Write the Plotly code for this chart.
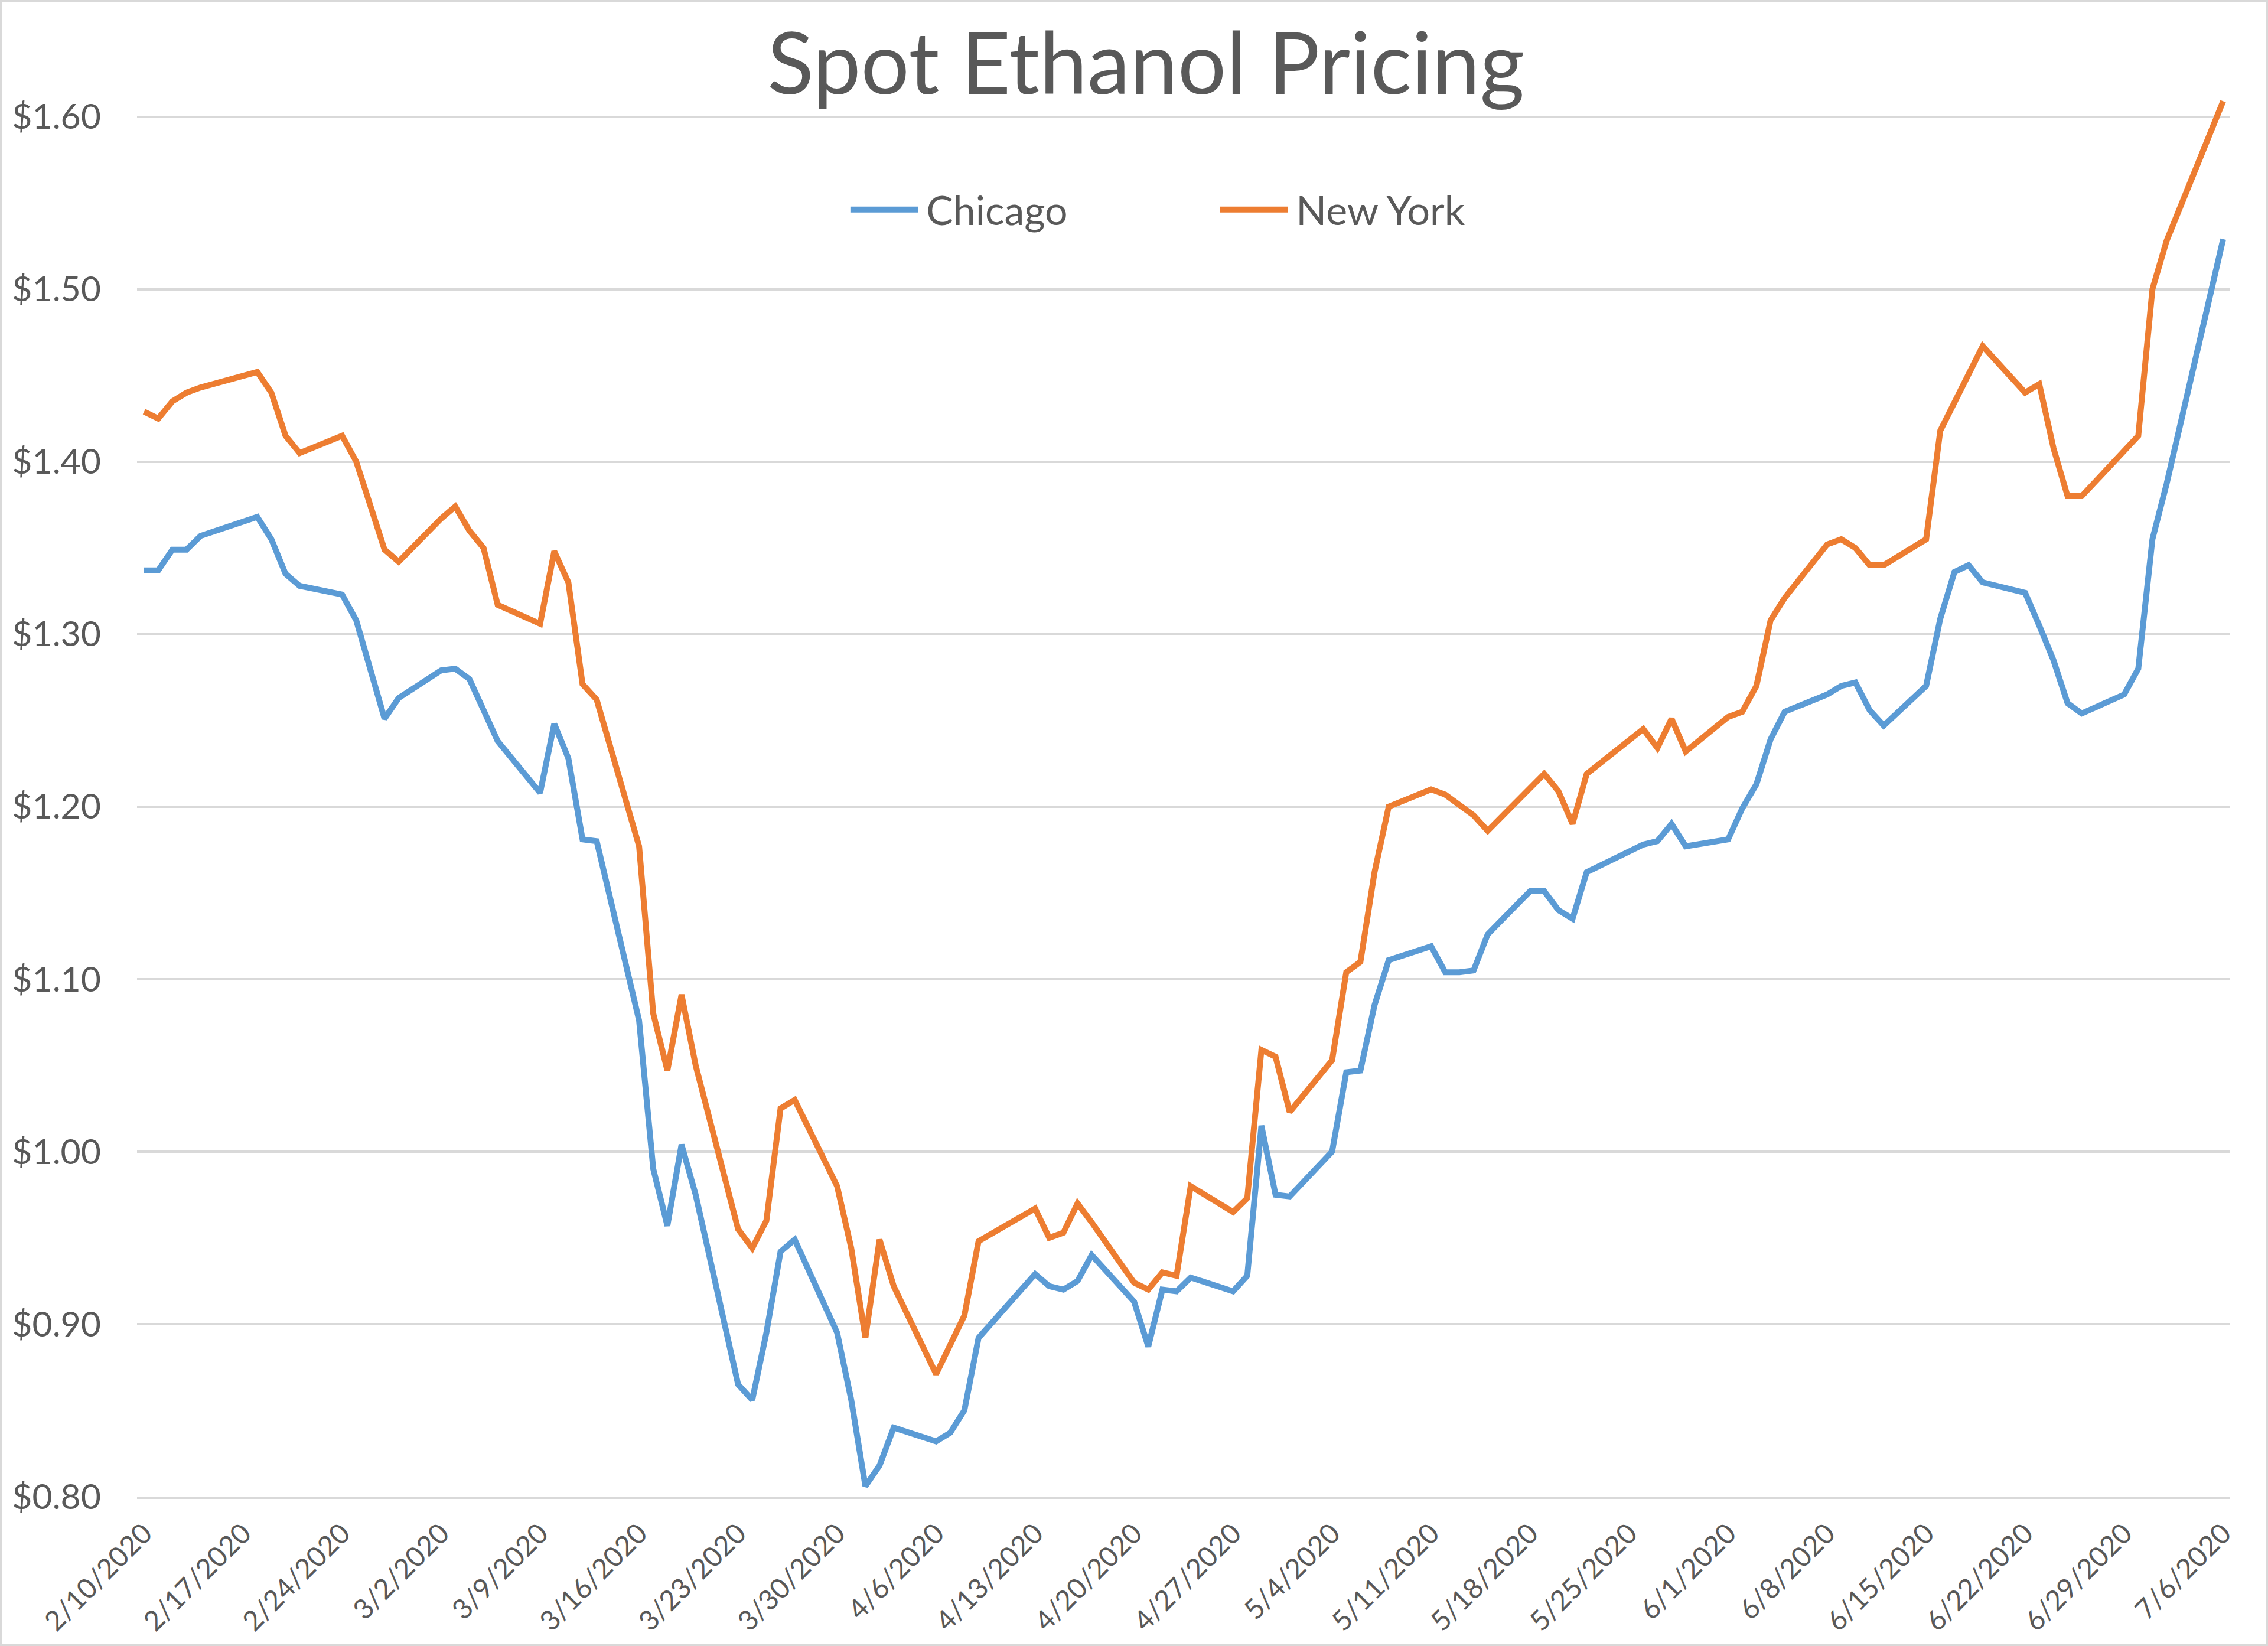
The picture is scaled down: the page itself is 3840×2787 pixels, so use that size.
import plotly.graph_objects as go

dates = [
    "2020-02-10", "2020-02-11", "2020-02-12", "2020-02-13", "2020-02-14",
    "2020-02-18", "2020-02-19", "2020-02-20", "2020-02-21",
    "2020-02-24", "2020-02-25", "2020-02-26", "2020-02-27", "2020-02-28",
    "2020-03-02", "2020-03-03", "2020-03-04", "2020-03-05", "2020-03-06",
    "2020-03-09", "2020-03-10", "2020-03-11", "2020-03-12", "2020-03-13",
    "2020-03-16", "2020-03-17", "2020-03-18", "2020-03-19", "2020-03-20",
    "2020-03-23", "2020-03-24", "2020-03-25", "2020-03-26", "2020-03-27",
    "2020-03-30", "2020-03-31", "2020-04-01", "2020-04-02", "2020-04-03",
    "2020-04-06", "2020-04-07", "2020-04-08", "2020-04-09",
    "2020-04-13", "2020-04-14", "2020-04-15", "2020-04-16", "2020-04-17",
    "2020-04-20", "2020-04-21", "2020-04-22", "2020-04-23", "2020-04-24",
    "2020-04-27", "2020-04-28", "2020-04-29", "2020-04-30", "2020-05-01",
    "2020-05-04", "2020-05-05", "2020-05-06", "2020-05-07", "2020-05-08",
    "2020-05-11", "2020-05-12", "2020-05-13", "2020-05-14", "2020-05-15",
    "2020-05-18", "2020-05-19", "2020-05-20", "2020-05-21", "2020-05-22",
    "2020-05-26", "2020-05-27", "2020-05-28", "2020-05-29",
    "2020-06-01", "2020-06-02", "2020-06-03", "2020-06-04", "2020-06-05",
    "2020-06-08", "2020-06-09", "2020-06-10", "2020-06-11", "2020-06-12",
    "2020-06-15", "2020-06-16", "2020-06-17", "2020-06-18", "2020-06-19",
    "2020-06-22", "2020-06-23", "2020-06-24", "2020-06-25", "2020-06-26",
    "2020-06-29", "2020-06-30", "2020-07-01", "2020-07-02",
    "2020-07-06",
]

chicago = [
    1.337, 1.337, 1.349, 1.349, 1.357,
    1.368, 1.355, 1.335, 1.328,
    1.323, 1.308, 1.280, 1.251, 1.263,
    1.279, 1.280, 1.274, 1.256, 1.238,
    1.208, 1.248, 1.228, 1.181, 1.180,
    1.076, 0.990, 0.957, 1.004, 0.975,
    0.865, 0.856, 0.895, 0.942, 0.949,
    0.895, 0.856, 0.806, 0.818, 0.840,
    0.832, 0.837, 0.850, 0.892,
    0.929, 0.922, 0.920, 0.925, 0.940,
    0.913, 0.887, 0.920, 0.919, 0.927,
    0.919, 0.928, 1.015, 0.975, 0.974,
    1.000, 1.046, 1.047, 1.085, 1.111,
    1.119, 1.104, 1.104, 1.105, 1.126,
    1.151, 1.151, 1.140, 1.135, 1.162,
    1.178, 1.180, 1.190, 1.177,
    1.181, 1.199, 1.213, 1.239, 1.255,
    1.265, 1.270, 1.272, 1.256, 1.247,
    1.270, 1.309, 1.336, 1.340, 1.330,
    1.324, 1.305, 1.285, 1.260, 1.254,
    1.265, 1.280, 1.355, 1.387,
    1.529,
]

new_york = [
    1.429, 1.425, 1.435, 1.440, 1.443,
    1.452, 1.440, 1.415, 1.405,
    1.415, 1.400, 1.374, 1.349, 1.342,
    1.367, 1.374, 1.360, 1.350, 1.317,
    1.306, 1.348, 1.330, 1.271, 1.262,
    1.177, 1.080, 1.047, 1.091, 1.050,
    0.955, 0.944, 0.960, 1.025, 1.030,
    0.980, 0.944, 0.892, 0.949, 0.922,
    0.871, 0.888, 0.905, 0.948,
    0.967, 0.950, 0.953, 0.970, 0.959,
    0.924, 0.920, 0.930, 0.928, 0.980,
    0.965, 0.973, 1.059, 1.055, 1.023,
    1.053, 1.104, 1.110, 1.162, 1.200,
    1.210, 1.207, 1.201, 1.195, 1.186,
    1.211, 1.219, 1.209, 1.190, 1.219,
    1.245, 1.234, 1.251, 1.232,
    1.252, 1.255, 1.270, 1.308, 1.321,
    1.352, 1.355, 1.350, 1.340, 1.340,
    1.355, 1.418, 1.434, 1.450, 1.467,
    1.440, 1.445, 1.408, 1.380, 1.380,
    1.406, 1.415, 1.500, 1.528,
    1.609,
]

series_names = ["Chicago", "New York"]

tick_dates = [
    "2020-02-10", "2020-02-17", "2020-02-24", "2020-03-02", "2020-03-09",
    "2020-03-16", "2020-03-23", "2020-03-30", "2020-04-06", "2020-04-13",
    "2020-04-20", "2020-04-27", "2020-05-04", "2020-05-11", "2020-05-18",
    "2020-05-25", "2020-06-01", "2020-06-08", "2020-06-15", "2020-06-22",
    "2020-06-29", "2020-07-06",
]
tick_labels = [
    "2/10/2020", "2/17/2020", "2/24/2020", "3/2/2020", "3/9/2020",
    "3/16/2020", "3/23/2020", "3/30/2020", "4/6/2020", "4/13/2020",
    "4/20/2020", "4/27/2020", "5/4/2020", "5/11/2020", "5/18/2020",
    "5/25/2020", "6/1/2020", "6/8/2020", "6/15/2020", "6/22/2020",
    "6/29/2020", "7/6/2020",
]

y_ticks = [0.8, 0.9, 1.0, 1.1, 1.2, 1.3, 1.4, 1.5, 1.6]

FONT = "Lato"
TEXT = "#595959"
GRID = "#D9D9D9"

W, H = 3840, 2787
ML, MR, MT, MB = 232, 64, 110, 253
pw = W - ML - MR
ph = H - MT - MB

fig = go.Figure()
fig.add_trace(go.Scatter(x=dates, y=chicago, name="\u2009" + series_names[0],
                         mode="lines", line=dict(color="#5B9BD5", width=10)))
fig.add_trace(go.Scatter(x=dates, y=new_york, name="\u2009" + series_names[1],
                         mode="lines", line=dict(color="#ED7D31", width=10)))

fig.update_layout(
    width=W, height=H,
    margin=dict(l=ML, r=MR, t=MT, b=MB, autoexpand=False),
    paper_bgcolor="white", plot_bgcolor="white",
    font=dict(family=FONT, color=TEXT),
    title=dict(text="Spot Ethanol Pricing", x=0.482, xanchor="center",
               y=1 - 108 / H, yanchor="middle", xref="paper",
               font=dict(size=145, color=TEXT, family=FONT)),
    showlegend=True,
    legend=dict(orientation="h", x=0.3394, xanchor="left",
                y=(ph - (355 - MT)) / ph, yanchor="middle",
                font=dict(size=68, color=TEXT), itemwidth=115,
                entrywidth=496, bgcolor="rgba(0,0,0,0)"),
    xaxis=dict(type="date", range=["2020-02-09 12:00", "2020-07-06 12:00"],
               tickvals=tick_dates, ticktext=tick_labels, tickangle=-45,
               tickfont=dict(size=47, color=TEXT), showgrid=False,
               showline=True, linecolor=GRID, linewidth=4,
               ticks="", ticklabelstandoff=12, zeroline=False),
    yaxis=dict(range=[0.8, 1.63], tickvals=y_ticks,
               ticktext=["$%.2f" % v for v in y_ticks],
               tickfont=dict(size=59, color=TEXT), showgrid=True,
               gridcolor=GRID, gridwidth=4, zeroline=False, showline=False,
               ticks="", ticklabelstandoff=60),
    shapes=[dict(type="rect", xref="paper", yref="paper",
                 x0=-(ML - 2) / pw, x1=1 + (MR - 2) / pw,
                 y0=-(MB - 2) / ph, y1=1 + (MT - 2) / ph,
                 line=dict(color=GRID, width=4), layer="below")],
)

fig.write_html("out.html")
